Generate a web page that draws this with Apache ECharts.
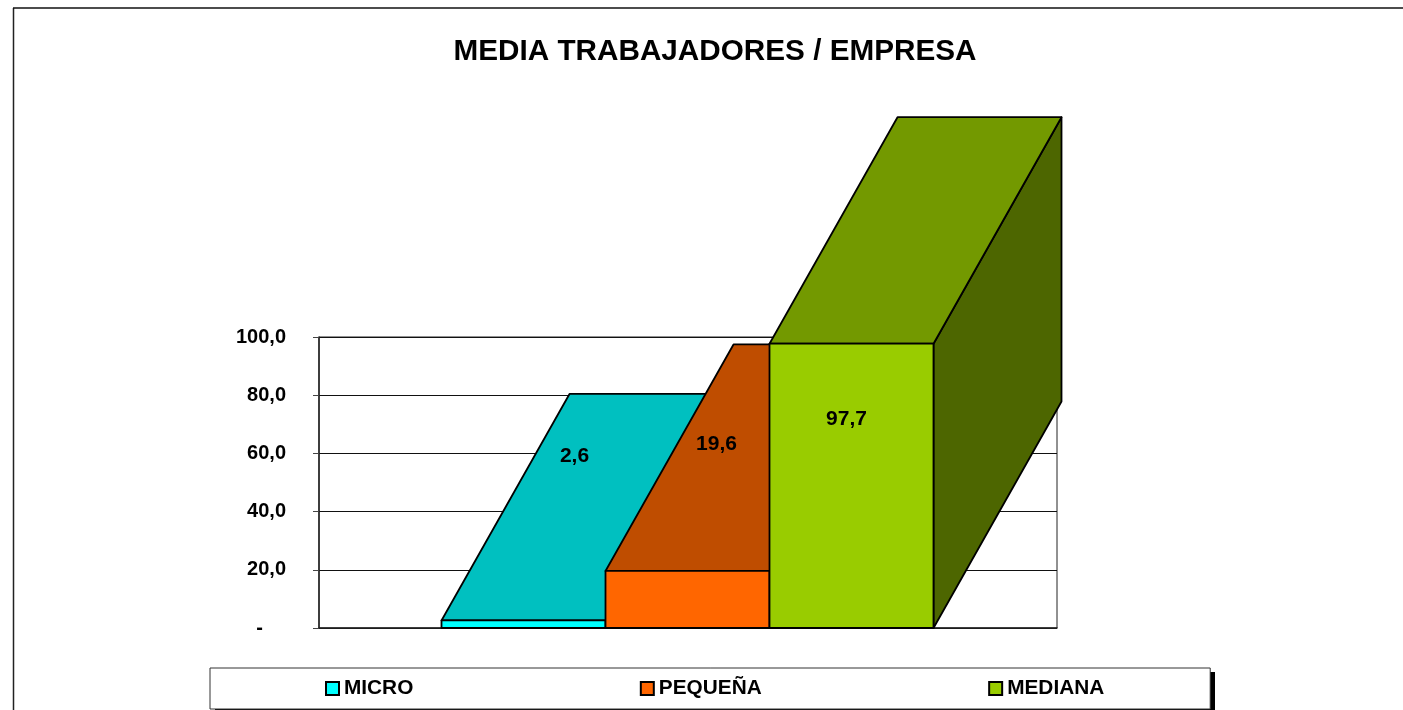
<!DOCTYPE html>
<html>
<head>
<meta charset="utf-8">
<title>Media trabajadores / empresa</title>
<script src="https://cdn.jsdelivr.net/npm/echarts@6/dist/echarts.min.js"></script>
<style>
  html, body { margin: 0; padding: 0; background: #fff; overflow: hidden; }
  #chart { width: 1403px; height: 710px; }
</style>
</head>
<body>
<div id="chart"></div>
<script>
const titleText = 'MEDIA TRABAJADORES / EMPRESA'
const xCategories = ['']
const seriesNames = ['MICRO', 'PEQUEÑA', 'MEDIANA']
const seriesValues = [2.6, 19.6, 97.7]
const yTicks = [0, 20, 40, 60, 80, 100]

// colores de cada cara: frontal, superior, lateral
const faceColors = [
  ['#00FFFF', '#00C0C0', '#008080'],
  ['#FF6600', '#BF4D00', '#803300'],
  ['#99CC00', '#739900', '#4D6600']
]
// desplazamiento de la etiqueta respecto al centro de la cara frontal superior
const labelOffsets = [[51, -164], [29, -127], [-5, 76]]

const FONT = '"Liberation Sans", Arial, sans-serif'
const DEPTH_X = 128
const DEPTH_Y = 226.5
const BARS_PER_BAND = 4.5

const formatValue = v => v.toFixed(1).replace('.', ',')

function poly(points, fill) {
  return {
    type: 'polygon',
    shape: { points },
    style: { fill, stroke: '#000', lineWidth: 1.8, lineJoin: 'round' }
  }
}

function makeRenderItem(index) {
  return (params, api) => {
    const top = api.coord([0, api.value(1)])
    const base = api.coord([0, 0])
    const barW = api.size([1, 0])[0] / BARS_PER_BAND
    const x0 = top[0] - 1.5 * barW + index * barW - 0.5
    const x1 = x0 + barW
    const yT = top[1]
    const yB = base[1]
    const [front, upper, side] = faceColors[index]
    const [ox, oy] = labelOffsets[index]
    return {
      type: 'group',
      children: [
        poly([[x1, yT], [x1 + DEPTH_X, yT - DEPTH_Y], [x1 + DEPTH_X, yB - DEPTH_Y], [x1, yB]], side),
        poly([[x0, yT], [x1, yT], [x1 + DEPTH_X, yT - DEPTH_Y], [x0 + DEPTH_X, yT - DEPTH_Y]], upper),
        poly([[x0, yT], [x1, yT], [x1, yB], [x0, yB]], front),
        {
          type: 'text',
          style: {
            x: (x0 + x1) / 2 + ox,
            y: yT + oy,
            text: formatValue(api.value(1)),
            fill: '#000',
            font: 'bold 21px ' + FONT,
            align: 'center',
            verticalAlign: 'middle'
          }
        }
      ]
    }
  }
}

const chart = echarts.init(document.getElementById('chart'))

chart.setOption({
  animation: false,
  backgroundColor: '#fff',
  title: {
    text: titleText,
    left: 710,
    top: 32,
    textAlign: 'center',
    textStyle: { fontFamily: FONT, fontWeight: 'bold', fontSize: 29.7, color: '#000' }
  },
  grid: {
    left: 319,
    right: 346,
    top: 337,
    bottom: 82,
    show: true,
    borderColor: '#222',
    borderWidth: 1,
    backgroundColor: '#fff'
  },
  xAxis: {
    type: 'category',
    data: xCategories,
    axisTick: { show: false },
    axisLabel: { show: false },
    axisLine: { lineStyle: { color: '#222', width: 1.5 } }
  },
  yAxis: {
    type: 'value',
    min: yTicks[0],
    max: yTicks[yTicks.length - 1],
    interval: yTicks[1] - yTicks[0],
    axisLine: { show: true, lineStyle: { color: '#222', width: 1.5 } },
    axisTick: { show: true, length: 6, lineStyle: { color: '#444', width: 1 } },
    splitLine: { show: true, lineStyle: { color: '#111', width: 1 } },
    axisLabel: {
      margin: 33,
      color: '#000',
      fontFamily: FONT,
      fontWeight: 'bold',
      fontSize: 20,
      formatter: v => (v === 0 ? '{dash|-}' : formatValue(v)),
      rich: {
        dash: { padding: [0, 23, 0, 0], fontFamily: FONT, fontWeight: 'bold', fontSize: 20, color: '#000' }
      }
    }
  },
  legend: {
    data: seriesNames,
    left: 210,
    top: 668,
    padding: [10, 106, 10, 115],
    itemGap: 226.5,
    itemWidth: 13,
    itemHeight: 13,
    backgroundColor: '#fff',
    borderColor: '#333',
    borderWidth: 1,
    icon: 'rect',
    z: 5,
    textStyle: { fontFamily: FONT, fontWeight: 'bold', fontSize: 20.8, color: '#000' }
  },
  graphic: [
    { type: 'line', shape: { x1: 13.5, y1: 8, x2: 13.5, y2: 710 }, style: { stroke: '#222', lineWidth: 1.5 } },
    { type: 'line', shape: { x1: 13, y1: 8, x2: 1403, y2: 8 }, style: { stroke: '#111', lineWidth: 1.5 } },
    { type: 'rect', z: 1, shape: { x: 215, y: 672, width: 1000, height: 40 }, style: { fill: '#000' } }
  ],
  series: seriesNames.map((name, i) => ({
    name,
    type: 'custom',
    renderItem: makeRenderItem(i),
    itemStyle: { color: faceColors[i][0], borderColor: '#000', borderWidth: 1 },
    data: [[0, seriesValues[i]]],
    encode: { x: 0, y: 1 }
  }))
})

window.addEventListener('resize', () => chart.resize())
</script>
</body>
</html>
